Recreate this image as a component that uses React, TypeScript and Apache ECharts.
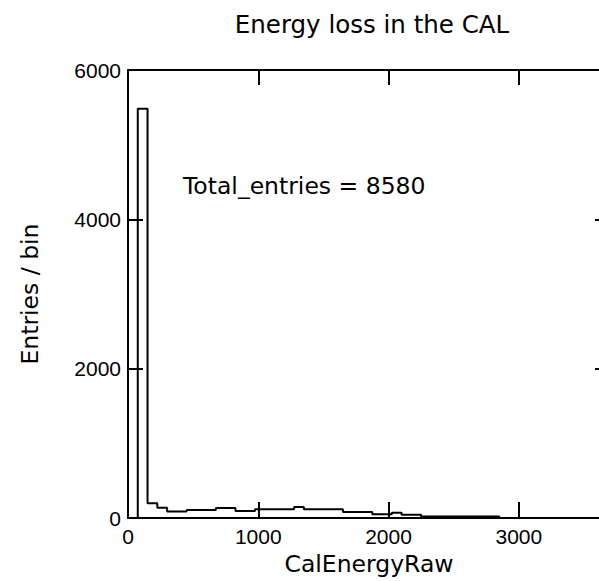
import React, { useEffect, useRef } from "react";
import * as echarts from "echarts";

// Histogram of raw calorimeter energy, fixed 75-unit bins starting at 0
const BIN_WIDTH = 75;
const binCounts = [
  0, 5480, 200, 140, 90, 90, 110, 110, 110, 135, 135, 95, 95, 120, 120, 120,
  120, 150, 118, 118, 118, 118, 82, 82, 82, 52, 52, 72, 46, 46, 20, 20, 20, 20,
  20, 20, 20, 20,
];
const xTicks = [0, 1000, 2000, 3000];
const yTicks = [0, 2000, 4000, 6000];
const titleText = "Energy loss in the CAL";
const xName = "CalEnergyRaw";
const yName = "Entries / bin";
const statsText = "Total_entries = 8580";

const NUM_FONT = "'Liberation Sans', Arial, Helvetica, sans-serif";
const TEXT_FONT = "'DejaVu Sans', Verdana, sans-serif";
const INK = "#000000";

// the plot frame runs past the right edge of the visible area
const VIEW_W = 599;
const VIEW_H = 581;
const CANVAS_W = 630;

export default function App() {
  const ref = useRef<HTMLDivElement>(null);

  useEffect(() => {
    if (!ref.current) return;
    const chart = echarts.init(ref.current, undefined, { renderer: "svg" });

    // outline points for a stepped histogram: left edge of every bin, then close at the last edge
    const outline: [number, number][] = binCounts.map((c, i) => [i * BIN_WIDTH, c]);
    outline.push([binCounts.length * BIN_WIDTH, 0]);

    const xMin = xTicks[0];
    const xMax = 3700;
    const yMin = yTicks[0];
    const yMax = yTicks[yTicks.length - 1];
    const xStep = xTicks[1] - xTicks[0];
    const yStep = yTicks[1] - yTicks[0];

    const frameLine = { show: true, onZero: false, lineStyle: { color: INK, width: 2 } };
    const innerTick = (len: number) => ({
      show: true,
      inside: true,
      length: len,
      lineStyle: { color: INK, width: 2 },
    });
    const labelStyle = {
      color: INK,
      fontFamily: NUM_FONT,
      fontSize: 21,
      formatter: (v: number) => String(v),
    };
    const nameStyle = { color: INK, fontFamily: TEXT_FONT, fontSize: 23.5 };

    chart.setOption({
      animation: false,
      backgroundColor: "#ffffff",
      title: {
        text: titleText,
        left: 367,
        top: 7,
        textAlign: "center",
        textStyle: { color: INK, fontFamily: TEXT_FONT, fontSize: 24.5, fontWeight: "normal" },
      },
      grid: { left: 128, top: 70, width: 482, height: 450, containLabel: false },
      xAxis: [
        {
          type: "value",
          position: "bottom",
          min: xMin,
          max: xMax,
          interval: xStep,
          axisLine: frameLine,
          axisTick: innerTick(16),
          splitLine: { show: false },
          axisLabel: { ...labelStyle, margin: 8, showMaxLabel: false },
          name: xName,
          nameLocation: "middle",
          nameGap: 29,
          nameTextStyle: nameStyle,
        },
        {
          type: "value",
          position: "top",
          min: xMin,
          max: xMax,
          interval: xStep,
          axisLine: frameLine,
          axisTick: innerTick(15),
          splitLine: { show: false },
          axisLabel: { show: false },
        },
      ],
      yAxis: [
        {
          type: "value",
          position: "left",
          min: yMin,
          max: yMax,
          interval: yStep,
          axisLine: frameLine,
          axisTick: innerTick(15),
          splitLine: { show: false },
          axisLabel: { ...labelStyle, margin: 7 },
          name: yName,
          nameLocation: "middle",
          nameGap: 86,
          nameTextStyle: nameStyle,
        },
        {
          type: "value",
          position: "right",
          min: yMin,
          max: yMax,
          interval: yStep,
          axisLine: frameLine,
          axisTick: innerTick(15),
          splitLine: { show: false },
          axisLabel: { show: false },
        },
      ],
      series: [
        {
          type: "line",
          step: "end",
          data: outline,
          symbol: "none",
          lineStyle: { color: INK, width: 2 },
          clip: false,
        },
      ],
      graphic: [
        {
          type: "text",
          left: 183,
          top: 174,
          style: {
            text: statsText,
            fill: INK,
            font: `23.5px ${TEXT_FONT}`,
          },
        },
      ],
    });

    return () => chart.dispose();
  }, []);

  return (
    <div
      style={{
        position: "absolute",
        left: 0,
        top: 0,
        width: VIEW_W,
        height: VIEW_H,
        overflow: "hidden",
        background: "#fff",
      }}
    >
      <div ref={ref} style={{ width: CANVAS_W, height: VIEW_H }} />
    </div>
  );
}
